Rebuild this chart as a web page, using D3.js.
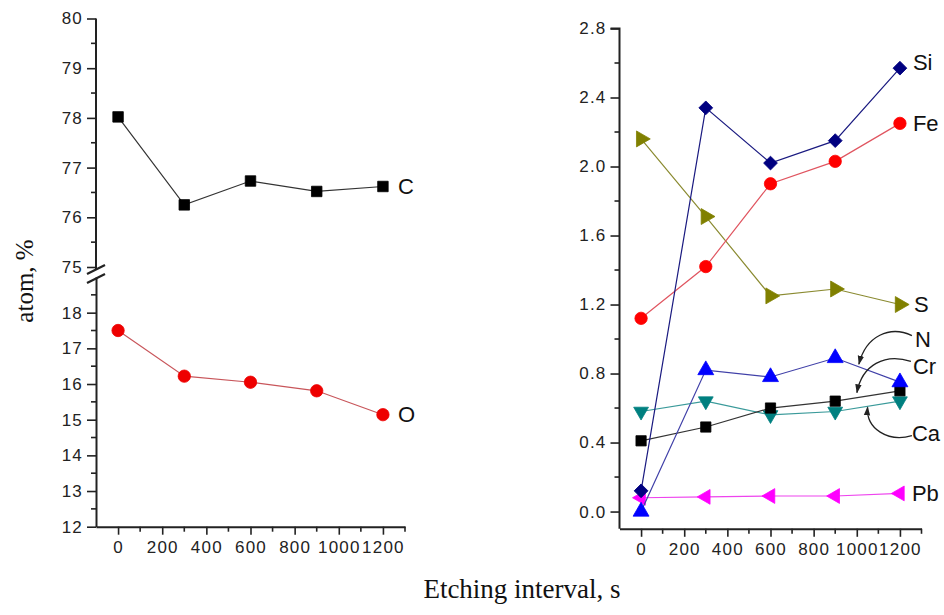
<!DOCTYPE html>
<html>
<head>
<meta charset="utf-8">
<script src="https://cdn.jsdelivr.net/npm/d3@7"></script>
<style>
  html, body { margin: 0; padding: 0; background: #fff; }
  svg { display: block; }
  .tick text { font-family: "Liberation Sans", Arial, sans-serif; font-size: 17px; fill: #222; letter-spacing: 1.2px; }
  .lbl { font-family: "Liberation Sans", Arial, sans-serif; font-size: 22px; fill: #111; }
  .title { font-family: "Liberation Serif", "Times New Roman", serif; font-size: 25px; fill: #111; }
</style>
</head>
<body>
<svg id="chart" width="944" height="615"></svg>
<script>
// ---- data ----
const times = [0, 300, 600, 900, 1200];
const xTicks = [0, 200, 400, 600, 800, 1000, 1200];
const C  = [78.02, 76.25, 76.73, 76.52, 76.62];
const O  = [17.50, 16.22, 16.05, 15.81, 15.14];
const Si = [0.12, 2.34, 2.02, 2.15, 2.57];
const Fe = [1.12, 1.42, 1.90, 2.03, 2.25];
const S  = [2.16, 1.71, 1.25, 1.29, 1.20];
const N  = [0.00, 0.82, 0.78, 0.89, 0.75];
const Cr = [0.41, 0.49, 0.60, 0.64, 0.70];
const Ca = [0.58, 0.64, 0.56, 0.58, 0.64];
const Pb = [0.08, 0.085, 0.09, 0.09, 0.105];
const upperTicks = [75, 76, 77, 78, 79, 80];
const lowerTicks = [12, 13, 14, 15, 16, 17, 18];
const rightTicks = [0.0, 0.4, 0.8, 1.2, 1.6, 2.0, 2.4, 2.8];

const svg = d3.select("#chart");

// ---- scales ----
const xL = d3.scaleLinear().domain([-100, 1300]).range([96, 405]);
const yUp = d3.scaleLinear().domain([75, 80]).range([267, 18.5]);
const yLow = d3.scaleLinear().domain([12, 19]).range([526.7, 277]);
const xR = d3.scaleLinear().domain([-100, 1300]).range([619.5, 921.5]);
const yR = d3.scaleLinear().domain([-0.1, 2.8]).range([528.8, 28.5]);

const AX = "#222";
function styleAxis(g) {
  g.select(".domain").attr("stroke", AX).attr("stroke-width", 2);
  g.selectAll(".tick line").attr("stroke", AX).attr("stroke-width", 1.6);
}
function minorTicks(g, vals, pos, orient, len) {
  g.selectAll(null).data(vals).enter().append("line")
    .attr("stroke", AX).attr("stroke-width", 1.6)
    .each(function(d) {
      const s = d3.select(this);
      if (orient === "left") s.attr("x1", 0).attr("x2", -len).attr("y1", pos(d)).attr("y2", pos(d));
      else s.attr("y1", 0).attr("y2", len).attr("x1", pos(d)).attr("x2", pos(d));
    });
}

// ---- left panel axes ----
const gUp = svg.append("g").attr("transform", `translate(${xL.range()[0]},0)`)
  .call(d3.axisLeft(yUp).tickValues(upperTicks).tickFormat(d3.format("d")).tickSize(9).tickPadding(4).tickSizeOuter(0));
styleAxis(gUp);
minorTicks(gUp, [75.5, 76.5, 77.5, 78.5, 79.5], yUp, "left", 5);
gUp.select(".domain").attr("d", `M0,${yUp(80)}V${yUp(75) + 3}`);

const gLow = svg.append("g").attr("transform", `translate(${xL.range()[0]},0)`)
  .call(d3.axisLeft(yLow).tickValues(lowerTicks).tickFormat(d3.format("d")).tickSize(9).tickPadding(4).tickSizeOuter(0));
styleAxis(gLow);
minorTicks(gLow, [12.5, 13.5, 14.5, 15.5, 16.5, 17.5, 18.5], yLow, "left", 5);

// break marks
const bx = xL.range()[0];
[[0, 0], [0, 9]].forEach(([dx, dy]) => {
  svg.append("line").attr("x1", bx - 9).attr("y1", yUp(75) + 7 + dy)
    .attr("x2", bx + 9).attr("y2", yUp(75) - 2 + dy)
    .attr("stroke", AX).attr("stroke-width", 2.2);
});

const gXL = svg.append("g").attr("transform", `translate(0,${yLow(12)})`)
  .call(d3.axisBottom(xL).tickValues(xTicks).tickFormat(d3.format("d")).tickSize(8).tickPadding(6).tickSizeOuter(0));
styleAxis(gXL);
minorTicks(gXL, [100, 300, 500, 700, 900, 1100, 1300], xL, "bottom", 5);

// ---- right panel axes ----
const gYR = svg.append("g").attr("transform", `translate(${xR.range()[0]},0)`)
  .call(d3.axisLeft(yR).tickValues(rightTicks).tickFormat(d3.format(".1f")).tickSize(9).tickPadding(4).tickSizeOuter(0));
styleAxis(gYR);
minorTicks(gYR, [0.2, 0.6, 1.0, 1.4, 1.8, 2.2, 2.6], yR, "left", 5);
gYR.select(".domain").attr("d", `M-9,${yR(2.8)}H0V${yR(-0.1)}`);

const gXR = svg.append("g").attr("transform", `translate(0,${yR(-0.1)})`)
  .call(d3.axisBottom(xR).tickValues(xTicks).tickFormat(d3.format("d")).tickSize(8).tickPadding(6).tickSizeOuter(0));
styleAxis(gXR);
minorTicks(gXR, [100, 300, 500, 700, 900, 1100, 1300], xR, "bottom", 5);

// ---- series drawing ----
function drawSeries(xs, ys, vals, lineColor, fill, symType, size, rotate) {
  const pts = times.map((t, i) => [xs(t), ys(vals[i])]);
  svg.append("path").attr("d", d3.line()(pts))
    .attr("fill", "none").attr("stroke", lineColor).attr("stroke-width", 1.2);
  const sym = d3.symbol().type(symType).size(size);
  svg.append("g").selectAll("path").data(pts).enter().append("path")
    .attr("d", sym)
    .attr("transform", d => `translate(${d[0]},${d[1]}) rotate(${rotate})`)
    .attr("fill", fill).attr("stroke", fill).attr("stroke-width", 0.8);
}

// left
drawSeries(xL, yUp, C, "#333", "#000", d3.symbolSquare, 110, 0);
drawSeries(xL, yLow, O, "#c8555a", "#ee0000", d3.symbolCircle, 120, 0);

// right
drawSeries(xR, yR, Pb, "#ee44ee", "#ff00ff", d3.symbolTriangle, 95, -90);
drawSeries(xR, yR, Ca, "#3a9a9a", "#008080", d3.symbolTriangle, 95, 180);
drawSeries(xR, yR, Cr, "#333", "#000", d3.symbolSquare, 105, 0);
drawSeries(xR, yR, N, "#4040a8", "#0000ff", d3.symbolTriangle, 110, 0);
drawSeries(xR, yR, S, "#8a8a30", "#808000", d3.symbolTriangle, 110, 90);
drawSeries(xR, yR, Fe, "#e05560", "#ff0000", d3.symbolCircle, 120, 0);
drawSeries(xR, yR, Si, "#1a1a80", "#000080", d3.symbolSquare, 95, 45);

// ---- series labels ----
const endT = times[times.length - 1];
function label(text, x, y) {
  svg.append("text").attr("class", "lbl").attr("x", x).attr("y", y)
    .attr("dominant-baseline", "central").text(text);
}
label("C", xL(endT) + 15, yUp(C[4]));
label("O", xL(endT) + 15, yLow(O[4]));
label("Si", xR(endT) + 13, yR(Si[4]) - 6);
label("Fe", xR(endT) + 13, yR(Fe[4]));
label("S", xR(endT) + 14, yR(S[4]));
label("N", xR(endT) + 15, yR(1.0));
label("Cr", xR(endT) + 13, yR(0.84));
label("Ca", xR(endT) + 12, yR(0.45));
label("Pb", xR(endT) + 12, yR(0.105));

// ---- annotation arrows ----
const defs = svg.append("defs");
defs.append("marker").attr("id", "ah").attr("viewBox", "0 0 10 10")
  .attr("refX", 9).attr("refY", 5).attr("markerWidth", 7).attr("markerHeight", 7)
  .attr("orient", "auto")
  .append("path").attr("d", "M0,1.5 L10,5 L0,8.5 Z").attr("fill", "#222");

function arrow(sx, sy, c1x, c1y, c2x, c2y, ex, ey) {
  svg.append("path")
    .attr("d", `M${sx},${sy} C${c1x},${c1y} ${c2x},${c2y} ${ex},${ey}`)
    .attr("fill", "none").attr("stroke", "#222").attr("stroke-width", 1.3)
    .attr("marker-end", "url(#ah)");
}
const ax = xR(1010);
arrow(xR(endT) + 12, yR(1.02), 890, yR(1.08), 866, yR(1.02), ax, yR(0.855));
arrow(xR(endT) + 11, yR(0.87), 885, yR(0.92), 862, yR(0.85), ax - 2, yR(0.69));
arrow(xR(endT) + 12, yR(0.44), 888, yR(0.40), 866, yR(0.48), xR(1050), yR(0.605));

// ---- axis titles ----
svg.append("text").attr("class", "title")
  .attr("transform", "translate(33,281) rotate(-90)")
  .attr("text-anchor", "middle").text("atom, %");
svg.append("text").attr("class", "title").style("font-size", "27px")
  .attr("x", 522).attr("y", 598).attr("text-anchor", "middle").text("Etching interval, s");
</script>
</body>
</html>
